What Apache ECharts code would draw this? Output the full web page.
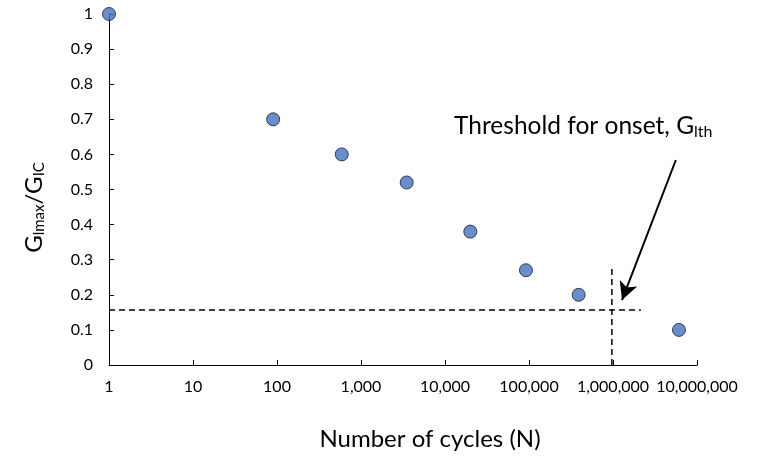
<!DOCTYPE html>
<html>
<head>
<meta charset="utf-8">
<script src="https://cdn.jsdelivr.net/npm/echarts@6/dist/echarts.min.js"></script>
<style>
  html, body { margin: 0; padding: 0; background: #fff; }
  #chart { width: 761px; height: 456px; }
</style>
</head>
<body>
<div id="chart"></div>
<script>
// Fatigue onset data: normalised energy release rate vs. number of cycles
const cycles = [1, 90, 590, 3500, 20000, 92000, 390000, 6100000];
const gRatio = [1, 0.70, 0.60, 0.52, 0.38, 0.27, 0.20, 0.10];

// Threshold guide lines
const thresholdValue = 0.157;
const thresholdLineX = [1, 2150000];
const onsetCycles = 970000;
const onsetLineY = [0, 0.28];

// Annotation arrow: tail and head in data coordinates
const arrowTail = [5600000, 0.584];
const arrowHead = [1280000, 0.185];

const xTicks = [1, 10, 100, 1000, 10000, 100000, 1000000, 10000000];

const FONT = 'Lato, "Open Sans", sans-serif';
const chart = echarts.init(document.getElementById('chart'));

chart.setOption({
  animation: false,
  backgroundColor: '#ffffff',
  grid: { left: 109, right: 64, top: 14, bottom: 91 },
  xAxis: {
    type: 'log',
    logBase: 10,
    min: xTicks[0],
    max: xTicks[xTicks.length - 1],
    splitLine: { show: false },
    axisLine: { lineStyle: { color: '#000', width: 1 } },
    axisTick: { inside: true, length: 5, lineStyle: { color: '#000' } },
    axisLabel: {
      color: '#000', fontSize: 16, fontFamily: FONT, margin: 14,
      formatter: v => Math.round(v).toLocaleString('en-US')
    },
    name: 'Number of cycles (N)',
    nameLocation: 'middle',
    nameGap: 62,
    nameTextStyle: { color: '#000', fontSize: 24, fontFamily: FONT, padding: [0, 0, 0, 54] }
  },
  yAxis: {
    type: 'value',
    min: 0, max: 1, interval: 0.1,
    splitLine: { show: false },
    axisLine: { show: true, lineStyle: { color: '#000', width: 1 } },
    axisTick: { show: true, inside: true, length: 5, lineStyle: { color: '#000' } },
    axisLabel: {
      color: '#000', fontSize: 16, fontFamily: FONT, margin: 16,
      formatter: v => String(+v.toFixed(1))
    },
    name: 'G{sub|lmax}/G{sub|IC}',
    nameLocation: 'middle',
    nameGap: 62,
    nameTextStyle: {
      color: '#000', fontSize: 24, fontFamily: FONT, padding: [0, 36, 0, 0],
      rich: { sub: { fontSize: 15, fontFamily: FONT, color: '#000', verticalAlign: 'bottom', padding: [10, 0, 0, 0] } }
    }
  },
  series: [
    {
      type: 'line',
      data: thresholdLineX.map(x => [x, thresholdValue]),
      symbol: 'none',
      lineStyle: { color: '#000', width: 1.5, type: [6, 4] },
      z: 1
    },
    {
      type: 'line',
      data: onsetLineY.map(y => [onsetCycles, y]),
      symbol: 'none',
      lineStyle: { color: '#000', width: 1.5, type: [6, 4] },
      z: 1
    },
    {
      type: 'scatter',
      data: cycles.map((c, i) => [c, gRatio[i]]),
      symbol: 'circle',
      symbolSize: 13,
      itemStyle: { color: '#4472C4', borderColor: '#1a1a1a', borderWidth: 1 },
      z: 3,
      markLine: {
        silent: true,
        symbol: ['none', 'arrow'],
        symbolSize: [14, 18],
        lineStyle: { color: '#000', width: 2, type: 'solid' },
        label: { show: false },
        data: [[{ coord: arrowTail }, { coord: arrowHead }]]
      }
    }
  ],
  graphic: [
    {
      type: 'text',
      left: 454,
      top: 114,
      style: {
        text: 'Threshold for onset, G{sub|lth}',
        fill: '#000',
        font: '24.5px ' + FONT,
        rich: { sub: { fontSize: 16, fontFamily: FONT, fill: '#000', verticalAlign: 'bottom', padding: [11, 0, 0, 0] } }
      }
    }
  ]
});
</script>
</body>
</html>
